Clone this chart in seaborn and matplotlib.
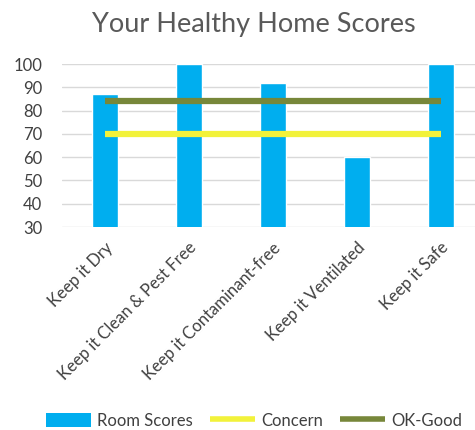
import matplotlib
matplotlib.use('Agg')
import matplotlib.pyplot as plt
import seaborn as sns
from matplotlib.patches import Patch
from matplotlib.lines import Line2D

categories = ['Keep it Dry', 'Keep it Clean & Pest Free', 'Keep it Contaminant-free',
              'Keep it Ventilated', 'Keep it Safe']
room_scores = [87, 100, 92, 60, 100]
concern = [70, 70, 70, 70, 70]
ok_good = [84, 84, 84, 84, 84]
yticks = [30, 40, 50, 60, 70, 80, 90, 100]

sns.set_style('white')
plt.rcParams['font.family'] = ['Lato', 'DejaVu Sans']

blue = '#00AEEF'
yellow = '#F2F23A'
green = '#77873A'
grey = '#595959'

fig = plt.figure(figsize=(4.75, 4.3), dpi=100)
ax = fig.add_axes([0.13, 0.472, 0.886, 0.379])

sns.barplot(x=categories, y=room_scores, color=blue, width=0.31, saturation=1, ax=ax, zorder=2)
sns.lineplot(x=categories, y=concern, color=yellow, linewidth=4.5, solid_capstyle='butt',
             ax=ax, zorder=3)
sns.lineplot(x=categories, y=ok_good, color=green, linewidth=4.5, solid_capstyle='butt',
             ax=ax, zorder=3)

ax.set_ylim(30, 100)
ax.set_yticks(yticks)
ax.set_xlim(-0.51, 4.5)
ax.grid(axis='y', color='#D9D9D9', linewidth=1, zorder=0)
ax.set_axisbelow(True)
for s in ax.spines.values():
    s.set_visible(False)
ax.tick_params(axis='both', length=0, labelsize=12, colors='#404040')
ax.tick_params(axis='x', pad=9)
ax.tick_params(axis='y', pad=14)
plt.setp(ax.get_xticklabels(), rotation=45, ha='right', rotation_mode='anchor')
ax.set_xlabel('')
ax.set_ylabel('')

fig.text(0.535, 0.944, 'Your Healthy Home Scores', ha='center', va='center',
         fontsize=19.5, color=grey)

handles = [Patch(facecolor=blue, edgecolor='none'),
           Line2D([0], [0], color=yellow, linewidth=4, solid_capstyle='butt'),
           Line2D([0], [0], color=green, linewidth=4, solid_capstyle='butt')]
fig.legend(handles, ['Room Scores', 'Concern', 'OK-Good'], loc='center',
           bbox_to_anchor=(0.535, 0.022), ncol=3, frameon=False, fontsize=12,
           labelcolor='#404040', handlelength=2.7, handleheight=0.9,
           handletextpad=0.4, columnspacing=1.0, borderpad=0, borderaxespad=0)

fig.savefig('out.png', dpi=100)
